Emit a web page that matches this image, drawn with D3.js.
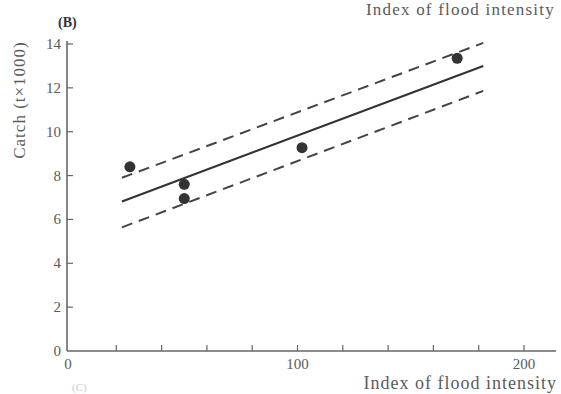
<!DOCTYPE html>
<html>
<head>
<meta charset="utf-8">
<script src="https://cdn.jsdelivr.net/npm/d3@7"></script>
<style>
  body { margin: 0; background: #fff; }
  text { font-family: "Liberation Serif", "DejaVu Serif", serif; fill: #5a5a5a; }
</style>
</head>
<body>
<div id="chart"></div>
<script>
// observed points (flood index, catch t x 1000)
const floodIndex = [26, 50, 50, 102, 170.5];
const catchVals = [8.4, 7.6, 6.95, 9.27, 13.35];

// regression line and its confidence band, endpoints
const lineX = [22.5, 182];
const fitY = [6.82, 13.0];
const upperY = [7.9, 14.05];
const lowerY = [5.64, 11.86];

const yTicks = [0, 2, 4, 6, 8, 10, 12, 14];
const xTicks = [20, 40, 60, 80, 100, 120, 140, 160, 180, 200];
const xLabels = [0, 100, 200];

const width = 561, height = 394;

const svg = d3.select("#chart")
  .append("svg")
    .attr("width", width)
    .attr("height", height);

var x = d3.scaleLinear().domain([0, 200]).range([71, 524]);
var y = d3.scaleLinear().domain([0, 14]).range([351, 44]);

const axisColor = "#666";

// axis lines
svg.append("line")
  .attr("x1", 67).attr("x2", 556)
  .attr("y1", y(0)).attr("y2", y(0))
  .attr("stroke", axisColor).attr("stroke-width", 1.6);
svg.append("line")
  .attr("x1", 67).attr("x2", 67)
  .attr("y1", y(0)).attr("y2", y(14) - 3)
  .attr("stroke", axisColor).attr("stroke-width", 1.6);

// y ticks point inward
svg.selectAll(".ytick")
  .data(yTicks.filter(d => d > 0))
  .enter().append("line")
    .attr("class", "ytick")
    .attr("x1", 67).attr("x2", 73)
    .attr("y1", d => y(d)).attr("y2", d => y(d))
    .attr("stroke", axisColor).attr("stroke-width", 1.2);

svg.selectAll(".ylab")
  .data(yTicks)
  .enter().append("text")
    .attr("class", "ylab")
    .attr("x", 61)
    .attr("y", d => y(d) + 5)
    .attr("text-anchor", "end")
    .style("font-size", "15px")
    .text(d => d);

// x ticks point up
svg.selectAll(".xtick")
  .data(xTicks)
  .enter().append("line")
    .attr("class", "xtick")
    .attr("x1", d => x(d)).attr("x2", d => x(d))
    .attr("y1", y(0)).attr("y2", y(0) - 6)
    .attr("stroke", axisColor).attr("stroke-width", 1.2);

svg.selectAll(".xlab")
  .data(xLabels)
  .enter().append("text")
    .attr("class", "xlab")
    .attr("x", d => d === 0 ? 68 : x(d))
    .attr("y", 369)
    .attr("text-anchor", "middle")
    .style("font-size", "15px")
    .text(d => d);

// axis titles
svg.append("text")
  .attr("x", 557).attr("y", 389)
  .attr("text-anchor", "end")
  .style("font-size", "18px")
  .style("letter-spacing", "1px")
  .text("Index of flood intensity");

svg.append("text")
  .attr("transform", "translate(25,100) rotate(-90)")
  .attr("text-anchor", "middle")
  .style("font-size", "17px")
  .style("letter-spacing", "1px")
  .text("Catch (t\u00d71000)");

// panel label, plus captions of the neighbouring panels at the frame edges
svg.append("text")
  .attr("x", 58).attr("y", 27)
  .style("font-size", "14px")
  .style("font-weight", "bold")
  .style("fill", "#333")
  .text("(B)");

svg.append("text")
  .attr("x", 366).attr("y", 15)
  .style("font-size", "17px")
  .style("letter-spacing", "1.2px")
  .text("Index of flood intensity");

svg.append("text")
  .attr("x", 72).attr("y", 391)
  .style("font-size", "11px")
  .style("fill", "#ccc")
  .text("(C)");

// fitted line and confidence band
const seg = ys => lineX.map((v, i) => [v, ys[i]]);
const line = d3.line().x(d => x(d[0])).y(d => y(d[1]));

svg.append("path")
  .attr("d", line(seg(fitY)))
  .attr("fill", "none")
  .attr("stroke", "#333")
  .attr("stroke-width", 2.2);

[upperY, lowerY].forEach(band => {
  svg.append("path")
    .attr("d", line(seg(band)))
    .attr("fill", "none")
    .attr("stroke", "#444")
    .attr("stroke-width", 2)
    .attr("stroke-dasharray", "11,7");
});

// points
svg.selectAll(".pt")
  .data(floodIndex.map((d, i) => ({fi: d, c: catchVals[i]})))
  .enter().append("circle")
    .attr("class", "pt")
    .attr("cx", d => x(d.fi))
    .attr("cy", d => y(d.c))
    .attr("r", 5.5)
    .attr("fill", "#333");
</script>
</body>
</html>
